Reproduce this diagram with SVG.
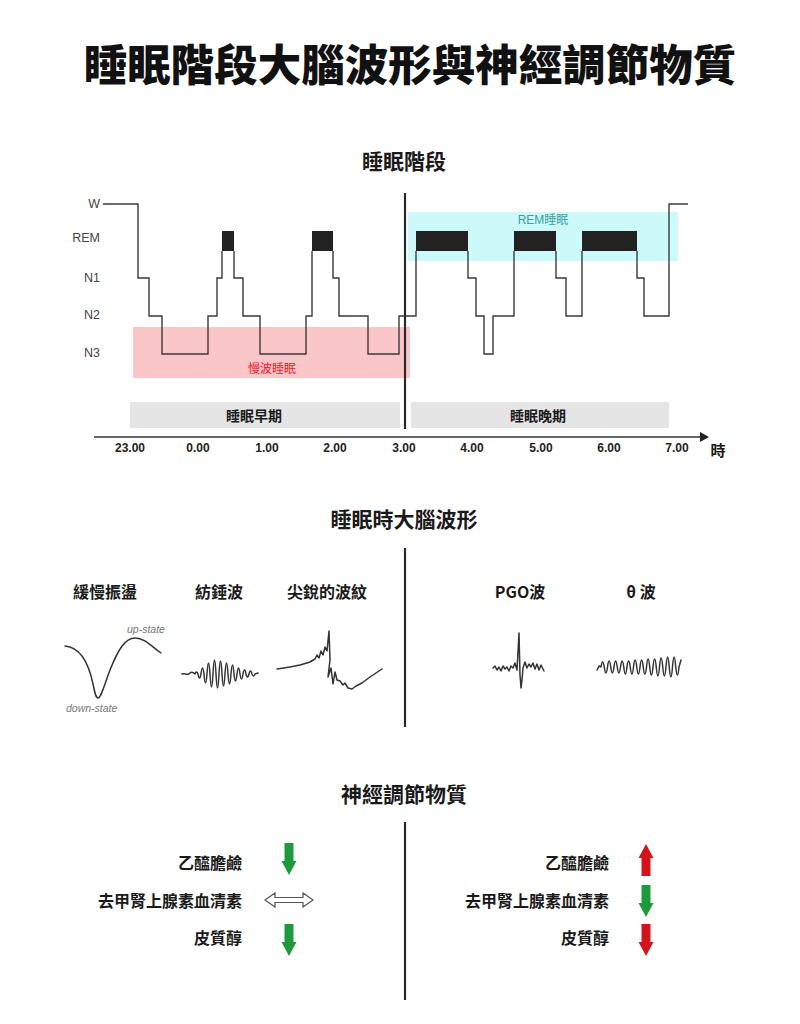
<svg xmlns="http://www.w3.org/2000/svg" width="800" height="1024" viewBox="0 0 800 1024">
<defs>
<style>
.cjk{font-family:"Noto Sans CJK TC","Noto Sans CJK SC",sans-serif;font-weight:bold;fill:#1a1a1a;dominant-baseline:central}
.sec{font-size:21px;text-anchor:middle}
.wl{font-size:16px;text-anchor:middle}
.nl{font-size:16px;text-anchor:end}
.lvl{font-family:"Liberation Sans",Arial,sans-serif;font-size:12.5px;fill:#444;text-anchor:end;dominant-baseline:central}
.tick{font-family:"Liberation Sans",Arial,sans-serif;font-size:12px;font-weight:bold;fill:#222;text-anchor:middle;dominant-baseline:central}
.wave{fill:none;stroke:#333;stroke-width:1.5;stroke-linejoin:round;stroke-linecap:round}
.div{stroke:#2a2a2a;stroke-width:2.2}
.note{font-family:"Liberation Sans",Arial,sans-serif;font-size:10.5px;font-style:italic;fill:#777}
</style>
<path id="down" d="M-4.5,0 H4.5 V18 H7.5 L0,32 L-7.5,18 H-4.5 Z"/>
<path id="up" d="M0,0 L7.5,14 H4.5 V32 H-4.5 V14 H-7.5 Z"/>
</defs>
<rect width="800" height="1024" fill="#fff"/>

<g id="title">
<text class="cjk" x="410" y="62" font-size="43.5" font-weight="900" text-anchor="middle" style="font-weight:900;fill:#111">睡眠階段大腦波形與神經調節物質</text>
</g>

<g id="hypnogram">
<text class="cjk sec" x="404" y="160">睡眠階段</text>
<rect x="133" y="327" width="277" height="51" fill="#fbc6c8"/>
<rect x="408" y="212" width="270" height="49" fill="#ccfafa"/>
<text class="cjk" x="272" y="367" font-size="12" text-anchor="middle" style="fill:#e0202a;font-weight:normal">慢波睡眠</text>
<text x="543" y="220" font-family="Liberation Sans,'Noto Sans CJK TC',sans-serif" font-size="12" text-anchor="middle" dominant-baseline="central" fill="#3a9ea4">REM睡眠</text>
<text class="lvl" x="100" y="204">W</text>
<text class="lvl" x="100" y="238">REM</text>
<text class="lvl" x="100" y="278">N1</text>
<text class="lvl" x="100" y="315">N2</text>
<text class="lvl" x="100" y="353">N3</text>
<g fill="#222">
<rect x="222" y="231" width="12" height="20"/>
<rect x="312" y="231" width="21" height="20"/>
<rect x="416" y="231" width="52" height="20"/>
<rect x="514" y="231" width="42" height="20"/>
<rect x="582" y="231" width="55" height="20"/>
</g>
<path d="M103,204 H138 V278 H149 V316 H162 V354 H208 V316 H217 V278 H222 V251 M234,251 V278 H243 V316 H260 V354 H306 V316 H312 V251 M333,251 V278 H339 V316 H368 V354 H399 V316 H416 V251 M468,251 V278 H476 V316 H484 V354 H493 V316 H514 V251 M556,251 V278 H566 V316 H582 V251 M637,251 V278 H644 V316 H669 V204 H688" fill="none" stroke="#3a3a3a" stroke-width="1.4"/>
<line class="div" x1="405" y1="193" x2="405" y2="429"/>
</g>

<g id="timeline">
<rect x="130" y="402" width="270" height="26" fill="#e5e5e5"/>
<rect x="411" y="402" width="258" height="26" fill="#e5e5e5"/>
<text class="cjk" x="254" y="415" font-size="14" text-anchor="middle">睡眠早期</text>
<text class="cjk" x="538" y="415" font-size="14" text-anchor="middle">睡眠晚期</text>
<line x1="94" y1="437" x2="701" y2="437" stroke="#333" stroke-width="1.5"/>
<polygon points="700,432 709,437 700,442" fill="#222"/>
<text class="tick" x="130" y="448">23.00</text>
<text class="tick" x="198" y="448">0.00</text>
<text class="tick" x="267" y="448">1.00</text>
<text class="tick" x="335" y="448">2.00</text>
<text class="tick" x="404" y="448">3.00</text>
<text class="tick" x="472" y="448">4.00</text>
<text class="tick" x="541" y="448">5.00</text>
<text class="tick" x="609" y="448">6.00</text>
<text class="tick" x="677" y="448">7.00</text>
<text class="cjk" x="718" y="449" font-size="15" text-anchor="middle">時</text>
</g>

<g id="waves">
<text class="cjk sec" x="404" y="518">睡眠時大腦波形</text>
<line class="div" x1="405" y1="548" x2="405" y2="727"/>
<g id="slow-osc">
<text class="cjk wl" x="105" y="591">緩慢振盪</text>
<path class="wave" d="M65,646 C78,647 88,660 93,684 C95,694 96,698 98,698 C101,698 104,686 110,670 C118,650 125,638 135,638 C145,638 152,647 161,653"/>
<text class="note" x="127" y="633">up-state</text>
<text class="note" x="66" y="712">down-state</text>
</g>
<g id="spindle">
<text class="cjk wl" x="219" y="591">紡錘波</text>
<path class="wave" d="M182,674 C185,673 188,676 190,673 Q192,671 195,674 Q196.5,670 198,674 Q199.5,682 201,674 Q202.5,662 204,674 Q205.5,692 207,674 Q208.5,652 210,674 Q211.5,700 213,674 Q214.5,646 216,674 Q217.5,702 219,674 Q220.5,648 222,674 Q223.5,698 225,674 Q226.5,652 228,674 Q229.5,694 231,674 Q232.5,656 234,674 Q235.5,688 237,674 Q238.5,662 240,674 Q241.5,684 243,674 Q244.5,666 246,674 Q247.5,680 249,674 Q250.5,668 252,674 Q253.5,678 255,674 L258,673"/>
</g>
<g id="ripple">
<text class="cjk wl" x="327" y="591">尖銳的波紋</text>
<path class="wave" d="M277,669 L290,667 L300,665 L310,662 L315,659 L317,655 L319,658 L321,651 L323,655 L325,647 L327,651 L329,631 L330,660 L328,677 L331,668 L333,684 L335,672 L337,680 L340,681 L343,685 L345,683 L348,688 L352,689 L356,686 L362,683 L370,677 L376,673 L382,669"/>
</g>
<g id="pgo">
<text class="cjk wl" x="520" y="591">PGO波</text>
<path class="wave" d="M493,668 L495,666 L497,670 L499,667 L501,671 L503,666 L505,669 L507,667 L509,671 L511,666 L513,668 L515,663 L517,670 L519,633 L520,675 L521,688 L522,680 L523,668 L525,662 L527,668 L529,664 L531,667 L533,663 L535,669 L537,664 L539,670 L541,665 L544,671"/>
</g>
<g id="theta">
<text class="cjk wl" x="641" y="591">θ 波</text>
<path class="wave" d="M597,670 L599,666 L601,667 Q602.6,657 604.25,667 Q605.9,679 607.5,667 Q609.1,655 610.75,667 Q612.4,679 614,667 Q615.6,655 617.25,667 Q618.9,679 620.5,667 Q622.1,655 623.75,667 Q625.4,681 627,667 Q628.6,655 630.25,667 Q631.9,681 633.5,667 Q635.1,653 636.75,667 Q638.4,681 640,667 Q641.6,653 643.25,667 Q644.9,681 646.5,667 Q648.1,651 649.75,667 Q651.4,683 653,667 Q654.6,651 656.25,667 Q657.9,685 659.5,667 Q661.1,649 662.75,667 Q664.4,685 666,667 Q667.6,647 669.25,667 Q670.9,687 672.5,667 Q674.1,647 675.75,667 Q677.4,683 679,667 L681,660"/>
</g>
</g>

<g id="neuro">
<text class="cjk sec" x="404" y="793">神經調節物質</text>
<line class="div" x1="405" y1="822" x2="405" y2="1000"/>
<g id="nrem-neuro">
<text class="cjk nl" x="242" y="862">乙醯膽鹼</text>
<text class="cjk nl" x="242" y="900">去甲腎上腺素血清素</text>
<text class="cjk nl" x="242" y="937">皮質醇</text>
<use href="#down" x="289" y="843" fill="#1e9a3c"/>
<path d="M265,900 L275,893 V897.5 H303 V893 L313,900 L303,907 V902.5 H275 V907 Z" fill="#fff" stroke="#555" stroke-width="1.2"/>
<use href="#down" x="289" y="924" fill="#1e9a3c"/>
</g>
<g id="rem-neuro">
<text class="cjk nl" x="609" y="862">乙醯膽鹼</text>
<text class="cjk nl" x="609" y="900">去甲腎上腺素血清素</text>
<text class="cjk nl" x="609" y="937">皮質醇</text>
<use href="#up" x="646" y="844" fill="#d2151c"/>
<use href="#down" x="646" y="885" fill="#1e9a3c"/>
<use href="#down" x="646" y="924" fill="#d2151c"/>
</g>
</g>
</svg>
